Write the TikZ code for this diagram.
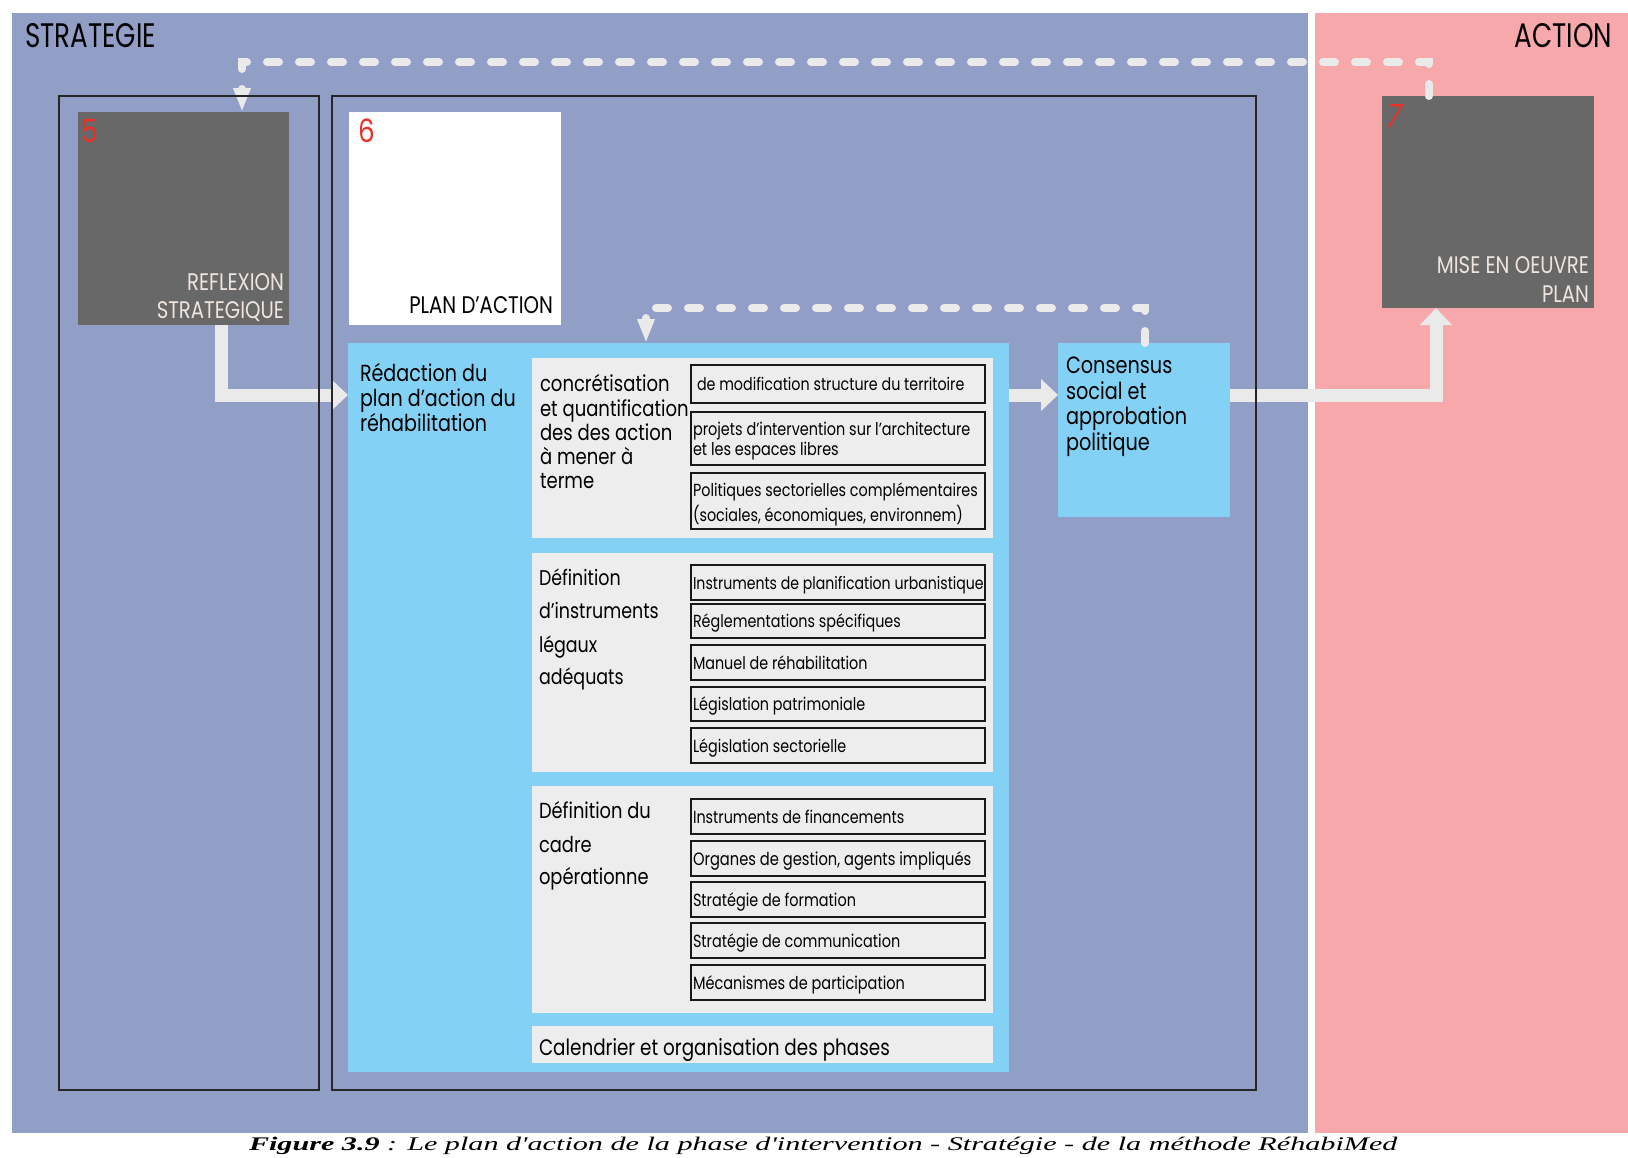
\documentclass[tikz,border=0pt]{standalone}
\usepackage{fontspec}
\usepackage{graphicx}
\setmainfont{Poppins}[FakeStretch=0.82]
\newfontfamily\titlefont{Poppins}[FakeStretch=0.77]
\newfontfamily\slantfont{Poppins}[FakeStretch=0.82, FakeSlant=0.25]
\newfontfamily\capserif{Liberation Serif}
\usetikzlibrary{arrows.meta}
\definecolor{panelblue}{RGB}{145,158,198}
\definecolor{panelpink}{RGB}{246,168,171}
\definecolor{skyblue}{RGB}{131,210,245}
\definecolor{subgray}{RGB}{237,237,237}
\definecolor{darkbox}{RGB}{104,104,104}
\definecolor{arrowwhite}{RGB}{234,234,234}
\definecolor{numred}{RGB}{236,46,36}
\definecolor{boxtext}{RGB}{238,229,224}
\newcommand\fsz[1]{\fontsize{#1pt}{#1pt}\selectfont}
\begin{document}
\begin{tikzpicture}[x=1pt,y=-1pt,
  panel/.style={inner sep=0pt, outer sep=0pt, anchor=north west, draw=none},
  framebox/.style={panel, draw=black!85, line width=1.8pt},
  itembox/.style={panel, draw=black!90, line width=1.8pt, fill=subgray, minimum width=294pt},
  lbl/.style={inner sep=0pt, outer sep=0pt, anchor=base west},
  lblr/.style={inner sep=0pt, outer sep=0pt, anchor=base east},
  fat/.style={draw=arrowwhite, line width=13pt, -{Triangle[width=31pt,length=17pt]}},
  dsh/.style={draw=arrowwhite, line width=8pt, line cap=round, dash pattern=on 12pt off 20pt, -{Triangle[width=16pt,length=24pt]}}
]
\useasboundingbox (0,0) rectangle (1628,1157);
\fill[white] (0,0) rectangle (1628,1157);
\clip (0,0) rectangle (1628,1157);

% panels
\node[panel, fill=panelblue, minimum width=1296pt, minimum height=1120pt] (strat) at (12,13) {};
\node[panel, fill=panelpink, minimum width=313pt, minimum height=1120pt] (act) at (1315,13) {};
\node[lbl] (tstrat) at (25,47) {\titlefont\fsz{34}STRATEGIE};
\node[lblr] (tact) at (1612,47) {\titlefont\fsz{34}ACTION};

% top boxes
\node[panel, fill=darkbox, minimum width=211pt, minimum height=213pt] (b5) at (78,112) {};
\node[panel, fill=white, minimum width=212pt, minimum height=213pt] (b6) at (349,112) {};
\node[panel, fill=darkbox, minimum width=212pt, minimum height=212pt] (b7) at (1382,96) {};
\node[lbl, text=numred] (n5) at (81,142) {\fsz{32}5};
\node[lbl, text=numred] (n6) at (358,142) {\fsz{32}6};
\node[lbl, text=numred] (n7) at (1384,127) {\slantfont\fsz{32}7};
\node[lblr, text=boxtext] (t5a) at (284,290) {\fsz{24}REFLEXION};
\node[lblr, text=boxtext] (t5b) at (284,318) {\fsz{24}STRATEGIQUE};
\node[lblr] (t6) at (553,313) {\fsz{24}PLAN D'ACTION};
\node[lblr, text=boxtext] (t7a) at (1589,273) {\fsz{24}MISE EN OEUVRE};
\node[lblr, text=boxtext] (t7b) at (1589,302) {\fsz{24}PLAN};

% main plan box
\node[panel, fill=skyblue, minimum width=661pt, minimum height=729pt] (main) at (348,343) {};
\node[panel, fill=skyblue, minimum width=172pt, minimum height=174pt] (cons) at (1058,343) {};
\node[lbl] (r1) at (360,381) {\fsz{23.3}Rédaction du};
\node[lbl] (r2) at (360,406) {\fsz{23.3}plan d'action du};
\node[lbl] (r3) at (360,431) {\fsz{23.3}réhabilitation};
\node[lbl] (c1) at (1066,373) {\fsz{23.5}Consensus};
\node[lbl] (c2) at (1066,399) {\fsz{23.5}social et};
\node[lbl] (c3) at (1066,424) {\fsz{23.5}approbation};
\node[lbl] (c4) at (1066,450) {\fsz{23.5}politique};

% sub boxes
\node[panel, fill=subgray, minimum width=461pt, minimum height=180pt] (g1) at (532,358) {};
\node[panel, fill=subgray, minimum width=461pt, minimum height=219pt] (g2) at (532,553) {};
\node[panel, fill=subgray, minimum width=461pt, minimum height=227pt] (g3) at (532,786) {};
\node[panel, fill=subgray, minimum width=461pt, minimum height=37pt] (g4) at (532,1026) {};

\node[lbl] (q1) at (540,391) {\fsz{22}concrétisation};
\node[lbl] (q2) at (540,416) {\fsz{22}et quantification};
\node[lbl] (q3) at (540,440) {\fsz{22}des des action};
\node[lbl] (q4) at (540,464) {\fsz{22}à mener à};
\node[lbl] (q5) at (540,488) {\fsz{22}terme};

\node[lbl] (l1) at (539,585) {\fsz{21.3}Définition};
\node[lbl] (l2) at (539,618) {\fsz{21.3}d'instruments};
\node[lbl] (l3) at (539,652) {\fsz{21.3}légaux};
\node[lbl] (l4) at (539,684) {\fsz{21.3}adéquats};

\node[lbl] (o1) at (539,818) {\fsz{21.8}Définition du};
\node[lbl] (o2) at (539,852) {\fsz{21.8}cadre};
\node[lbl] (o3) at (539,884) {\fsz{21.8}opérationne};

\node[lbl] (cal) at (539,1055) {\fsz{22.4}Calendrier et organisation des phases};

% item boxes
\node[itembox, minimum height=38pt] (i11) at (691,365) {};
\node[itembox, minimum height=53pt] (i12) at (691,412) {};
\node[itembox, minimum height=56pt] (i13) at (691,473) {};
\node[lbl] (s11) at ([xshift=6pt,yshift=-25pt]i11.north west) {\fsz{17.4}de modification structure du territoire};
\node[lbl] (s12a) at ([xshift=2pt,yshift=-23pt]i12.north west) {\fsz{17.6}projets d'intervention sur l'architecture};
\node[lbl] (s12b) at ([xshift=2pt,yshift=-43pt]i12.north west) {\fsz{17.6}et les espaces libres};
\node[lbl] (s13a) at ([xshift=2pt,yshift=-23pt]i13.north west) {\fsz{17.5}Politiques sectorielles complémentaires};
\node[lbl] (s13b) at ([xshift=2pt,yshift=-48pt]i13.north west) {\fsz{17.5}(sociales, économiques, environnem)};

\node[itembox, minimum height=35pt] (i21) at (691,565) {};
\node[itembox, minimum height=34pt] (i22) at (691,604) {};
\node[itembox, minimum height=35pt] (i23) at (691,645) {};
\node[itembox, minimum height=34pt] (i24) at (691,687) {};
\node[itembox, minimum height=35pt] (i25) at (691,728) {};
\node[lbl] (s21) at ([xshift=2pt,yshift=-24pt]i21.north west) {\fsz{17.2}Instruments de planification urbanistique};
\node[lbl] (s22) at ([xshift=2pt,yshift=-23pt]i22.north west) {\fsz{17.5}Réglementations spécifiques};
\node[lbl] (s23) at ([xshift=2pt,yshift=-24pt]i23.north west) {\fsz{17.5}Manuel de réhabilitation};
\node[lbl] (s24) at ([xshift=2pt,yshift=-23pt]i24.north west) {\fsz{17.5}Législation patrimoniale};
\node[lbl] (s25) at ([xshift=2pt,yshift=-24pt]i25.north west) {\fsz{17.5}Législation sectorielle};

\node[itembox, minimum height=35pt] (i31) at (691,799) {};
\node[itembox, minimum height=35pt] (i32) at (691,841) {};
\node[itembox, minimum height=35pt] (i33) at (691,882) {};
\node[itembox, minimum height=35pt] (i34) at (691,923) {};
\node[itembox, minimum height=35pt] (i35) at (691,965) {};
\node[lbl] (s31) at ([xshift=2pt,yshift=-24pt]i31.north west) {\fsz{17.5}Instruments de financements};
\node[lbl] (s32) at ([xshift=2pt,yshift=-24pt]i32.north west) {\fsz{17.9}Organes de gestion, agents impliqués};
\node[lbl] (s33) at ([xshift=2pt,yshift=-24pt]i33.north west) {\fsz{17.6}Stratégie de formation};
\node[lbl] (s34) at ([xshift=2pt,yshift=-24pt]i34.north west) {\fsz{17.6}Stratégie de communication};
\node[lbl] (s35) at ([xshift=2pt,yshift=-24pt]i35.north west) {\fsz{17.7}Mécanismes de participation};

% connectors
\coordinate (j1) at (221,395);
\coordinate (j2) at (1436,395);
\draw[fat] (b5.south -| j1) |- (main.west |- j1);
\draw[fat] (main.east |- j1) -- (cons.west |- j1);
\draw[fat] (cons.east |- j1) -| (b7.south -| j2);

\coordinate (d1) at (1429,62);
\coordinate (d2) at (242,62);
\draw[dsh] (b7.north -| d1) -- (d1) -- (d2) -- (b5.north -| d2);
\coordinate (d3) at (1145,308);
\coordinate (d4) at (646,308);
\draw[dsh] (cons.north -| d3) -- (d3) -- (d4) -- (main.north -| d4);

% frames
\node[framebox, minimum width=260pt, minimum height=994pt] (f5) at (59,96) {};
\node[framebox, minimum width=924pt, minimum height=994pt] (f6) at (332,96) {};

% caption
\node[panel] (cap) at (249,1137) {\resizebox*{1148pt}{17.5pt}{\capserif\bfseries\itshape Figure 3.9\mdseries\ : Le plan d'action de la phase d'intervention - Stratégie - de la méthode RéhabiMed}};
\end{tikzpicture}
\end{document}
